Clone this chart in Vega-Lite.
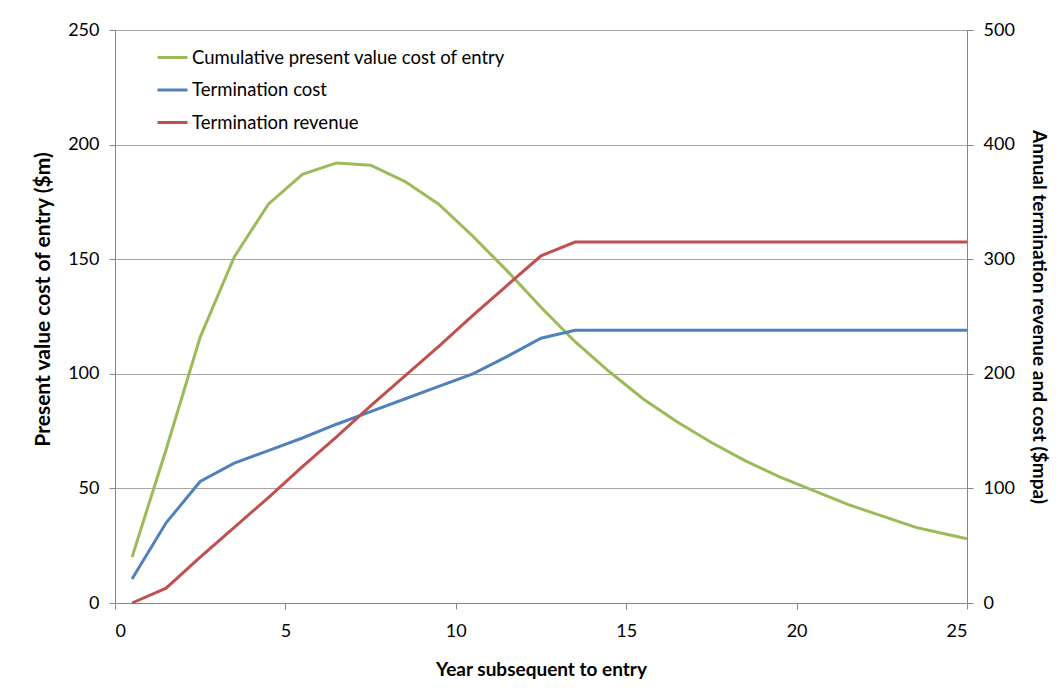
{
  "$schema": "https://vega.github.io/schema/vega-lite/v6.json",
  "width": 852,
  "height": 573,
  "autosize": "none",
  "padding": {"left": 115, "top": 30, "right": 96, "bottom": 92},
  "background": "white",
  "config": {
    "font": "Lato",
    "view": {"stroke": null},
    "axis": {
      "domainColor": "#868686",
      "tickColor": "#868686",
      "labelColor": "#000000",
      "titleColor": "#000000",
      "labelFont": "Lato",
      "titleFont": "Lato",
      "labelFontSize": 18,
      "titleFontSize": 19,
      "titleFontWeight": "bold",
      "tickSize": 6
    },
    "legend": {"labelFont": "Lato"}
  },
  "data": {
    "values": [
      {"year": 0.5, "Cumulative present value cost of entry": 20, "Termination cost": 21, "Termination revenue": 0},
      {"year": 1.5, "Cumulative present value cost of entry": 67, "Termination cost": 70, "Termination revenue": 13},
      {"year": 2.5, "Cumulative present value cost of entry": 116, "Termination cost": 106, "Termination revenue": 40},
      {"year": 3.5, "Cumulative present value cost of entry": 151, "Termination cost": 122, "Termination revenue": 66},
      {"year": 4.5, "Cumulative present value cost of entry": 174, "Termination cost": 133, "Termination revenue": 92},
      {"year": 5.5, "Cumulative present value cost of entry": 187, "Termination cost": 144, "Termination revenue": 119},
      {"year": 6.5, "Cumulative present value cost of entry": 192, "Termination cost": 156, "Termination revenue": 145},
      {"year": 7.5, "Cumulative present value cost of entry": 191, "Termination cost": 167, "Termination revenue": 172},
      {"year": 8.5, "Cumulative present value cost of entry": 184, "Termination cost": 178, "Termination revenue": 198},
      {"year": 9.5, "Cumulative present value cost of entry": 174, "Termination cost": 189, "Termination revenue": 224},
      {"year": 10.5, "Cumulative present value cost of entry": 160, "Termination cost": 200, "Termination revenue": 251},
      {"year": 11.5, "Cumulative present value cost of entry": 145, "Termination cost": 215, "Termination revenue": 277},
      {"year": 12.5, "Cumulative present value cost of entry": 129, "Termination cost": 231, "Termination revenue": 303},
      {"year": 13.5, "Cumulative present value cost of entry": 114, "Termination cost": 238, "Termination revenue": 315},
      {"year": 14.5, "Cumulative present value cost of entry": 101, "Termination cost": 238, "Termination revenue": 315},
      {"year": 15.5, "Cumulative present value cost of entry": 89, "Termination cost": 238, "Termination revenue": 315},
      {"year": 16.5, "Cumulative present value cost of entry": 79, "Termination cost": 238, "Termination revenue": 315},
      {"year": 17.5, "Cumulative present value cost of entry": 70, "Termination cost": 238, "Termination revenue": 315},
      {"year": 18.5, "Cumulative present value cost of entry": 62, "Termination cost": 238, "Termination revenue": 315},
      {"year": 19.5, "Cumulative present value cost of entry": 55, "Termination cost": 238, "Termination revenue": 315},
      {"year": 20.5, "Cumulative present value cost of entry": 49, "Termination cost": 238, "Termination revenue": 315},
      {"year": 21.5, "Cumulative present value cost of entry": 43, "Termination cost": 238, "Termination revenue": 315},
      {"year": 22.5, "Cumulative present value cost of entry": 38, "Termination cost": 238, "Termination revenue": 315},
      {"year": 23.5, "Cumulative present value cost of entry": 33, "Termination cost": 238, "Termination revenue": 315},
      {"year": 24.5, "Cumulative present value cost of entry": 29.7, "Termination cost": 238, "Termination revenue": 315},
      {"year": 25, "Cumulative present value cost of entry": 28, "Termination cost": 238, "Termination revenue": 315}
    ]
  },
  "encoding": {
    "x": {
      "field": "year",
      "type": "quantitative",
      "scale": {"domain": [0, 25], "nice": false},
      "axis": {
        "values": [0, 5, 10, 15, 20, 25],
        "grid": false,
        "title": "Year subsequent to entry",
        "labelPadding": 13,
        "titlePadding": 20
      }
    },
    "color": {
      "field": "series",
      "type": "nominal",
      "scale": {
        "domain": ["Cumulative present value cost of entry", "Termination cost", "Termination revenue"],
        "range": ["#9BBB59", "#4F81BD", "#C0504D"]
      },
      "legend": {
        "title": null,
        "orient": "none",
        "legendX": 41,
        "legendY": 11,
        "padding": 0,
        "symbolType": "stroke",
        "symbolSize": 900,
        "symbolStrokeWidth": 3,
        "labelFontSize": 18.5,
        "labelOffset": 3,
        "rowPadding": 6.5,
        "labelLimit": 500
      }
    }
  },
  "layer": [
    {
      "transform": [{"fold": ["Cumulative present value cost of entry"], "as": ["series", "value"]}],
      "mark": {"type": "line", "strokeWidth": 3},
      "encoding": {
        "y": {
          "field": "value",
          "type": "quantitative",
          "scale": {"domain": [0, 250], "nice": false},
          "axis": {
            "orient": "left",
            "values": [0, 50, 100, 150, 200, 250],
            "grid": true,
            "gridColor": "#a6a6a6",
            "gridWidth": 1,
            "title": "Present value cost of entry ($m)",
            "titleFontSize": 21,
            "titleY": 269,
            "labelPadding": 10,
            "titlePadding": 14
          }
        }
      }
    },
    {
      "transform": [{"fold": ["Termination cost", "Termination revenue"], "as": ["series", "value"]}],
      "mark": {"type": "line", "strokeWidth": 3},
      "encoding": {
        "y": {
          "field": "value",
          "type": "quantitative",
          "scale": {"domain": [0, 500], "nice": false},
          "axis": {
            "orient": "right",
            "values": [0, 100, 200, 300, 400, 500],
            "grid": false,
            "title": "Annual termination revenue and cost ($mpa)",
            "labelPadding": 10,
            "titlePadding": 14
          }
        }
      }
    }
  ],
  "resolve": {"scale": {"y": "independent"}}
}
